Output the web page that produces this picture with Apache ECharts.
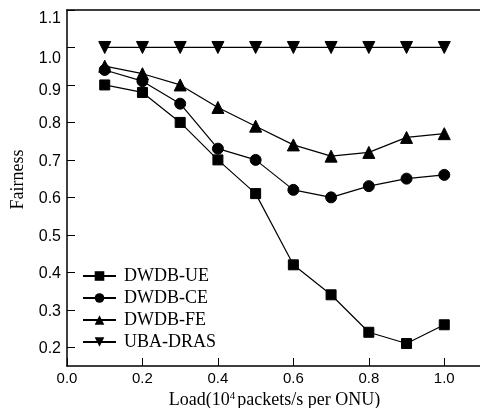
<!DOCTYPE html>
<html>
<head>
<meta charset="utf-8">
<script src="https://cdn.jsdelivr.net/npm/echarts@6/dist/echarts.min.js"></script>
<style>
  html, body { margin: 0; padding: 0; background: #fff; }
  #main { width: 480px; height: 408px; }
</style>
</head>
<body>
<div id="main"></div>
<script>
// load, 10^4 packets/s per ONU
const loads = [0.1, 0.2, 0.3, 0.4, 0.5, 0.6, 0.7, 0.8, 0.9, 1.0];

const dwdbUE = [0.90, 0.88, 0.80, 0.70, 0.61, 0.42, 0.34, 0.24, 0.21, 0.26];
const dwdbCE = [0.94, 0.91, 0.85, 0.73, 0.70, 0.62, 0.60, 0.63, 0.65, 0.66];
const dwdbFE = [0.95, 0.93, 0.90, 0.84, 0.79, 0.74, 0.71, 0.72, 0.76, 0.77];
const ubaDRAS = [1.0, 1.0, 1.0, 1.0, 1.0, 1.0, 1.0, 1.0, 1.0, 1.0];

const xTicks = [0.0, 0.2, 0.4, 0.6, 0.8, 1.0];
const yTicks = [0.2, 0.3, 0.4, 0.5, 0.6, 0.7, 0.8, 0.9, 1.0, 1.1];

const seriesList = [
  { name: 'DWDB-UE', data: dwdbUE, symbol: 'rect', size: 10, rotate: 0 },
  { name: 'DWDB-CE', data: dwdbCE, symbol: 'circle', size: 11, rotate: 0 },
  { name: 'DWDB-FE', data: dwdbFE, symbol: 'triangle', size: 12, rotate: 0 },
  { name: 'UBA-DRAS', data: ubaDRAS, symbol: 'triangle', size: 12, rotate: 180 }
];

const chart = echarts.init(document.getElementById('main'));

// the scan pushes the top labels a bit downwards
function yLabel(v) {
  const s = v.toFixed(1);
  if (v > 1.05) return '{a|' + s + '}';
  if (v > 0.95) return '{b|' + s + '}';
  if (v > 0.85) return '{c|' + s + '}';
  return '{d|' + s + '}';
}

const axisFont = { fontFamily: 'Liberation Sans', fontSize: 16, color: '#000' };

chart.setOption({
  animation: false,
  backgroundColor: '#fff',
  grid: { left: 67, top: 10, right: -2, bottom: 42, outerBoundsMode: 'none', containLabel: false },
  legend: {
    orient: 'vertical',
    left: 82, top: 267,
    padding: 0,
    itemWidth: 33, itemHeight: 12, itemGap: 4,
    textStyle: {
      fontFamily: 'Liberation Serif', fontSize: 18, color: '#000',
      padding: [0, 0, 0, 3]
    },
    data: seriesList.map(s => s.name)
  },
  xAxis: [{
    type: 'value',
    min: 0, max: 1.1,
    name: 'Load(10{sup|4}packets/s per ONU)',
    nameLocation: 'middle',
    nameGap: 19,
    nameTextStyle: {
      fontFamily: 'Liberation Serif', fontSize: 18, color: '#000',
      rich: {
        sup: { fontFamily: 'Liberation Serif', fontSize: 11, color: '#000', padding: [0, 2, 7, 0] }
      }
    },
    axisLine: { lineStyle: { color: '#000', width: 1.5 } },
    axisTick: { inside: true, length: 8, lineStyle: { color: '#000' }, customValues: xTicks },
    axisLabel: {
      customValues: xTicks,
      formatter: v => v.toFixed(1),
      fontFamily: 'Liberation Sans', fontSize: 15, color: '#000', margin: 5
    },
    splitLine: { show: false }
  }, {
    // top frame line only
    type: 'value',
    position: 'top',
    min: 0, max: 1.1,
    axisLine: { show: true, onZero: false, lineStyle: { color: '#000', width: 1.5 } },
    axisTick: { show: false },
    axisLabel: { show: false },
    splitLine: { show: false }
  }],
  yAxis: {
    type: 'value',
    min: 0.15, max: 1.1,
    name: 'Fairness',
    nameLocation: 'middle',
    nameGap: 40,
    nameTextStyle: {
      fontFamily: 'Liberation Serif', fontSize: 18, color: '#000',
      padding: [0, 0, 0, 17]
    },
    axisLine: { lineStyle: { color: '#000', width: 1.5 } },
    axisTick: { inside: true, length: 8, lineStyle: { color: '#000' }, customValues: yTicks },
    axisLabel: {
      customValues: yTicks,
      formatter: yLabel,
      margin: 6,
      rich: {
        a: Object.assign({ padding: [18, 0, 0, 0] }, axisFont),
        b: Object.assign({ padding: [22, 0, 0, 0] }, axisFont),
        c: Object.assign({ padding: [12, 0, 0, 0] }, axisFont),
        d: Object.assign({ padding: [3, 0, 0, 0] }, axisFont)
      }
    },
    splitLine: { show: false }
  },
  series: seriesList.map(s => ({
    name: s.name,
    type: 'line',
    data: loads.map((x, i) => [x, s.data[i]]),
    symbol: s.symbol,
    symbolSize: s.size,
    symbolRotate: s.rotate,
    showAllSymbol: true,
    lineStyle: { color: '#000', width: 1.2 },
    itemStyle: { color: '#000', borderColor: '#000' }
  }))
});
</script>
</body>
</html>
